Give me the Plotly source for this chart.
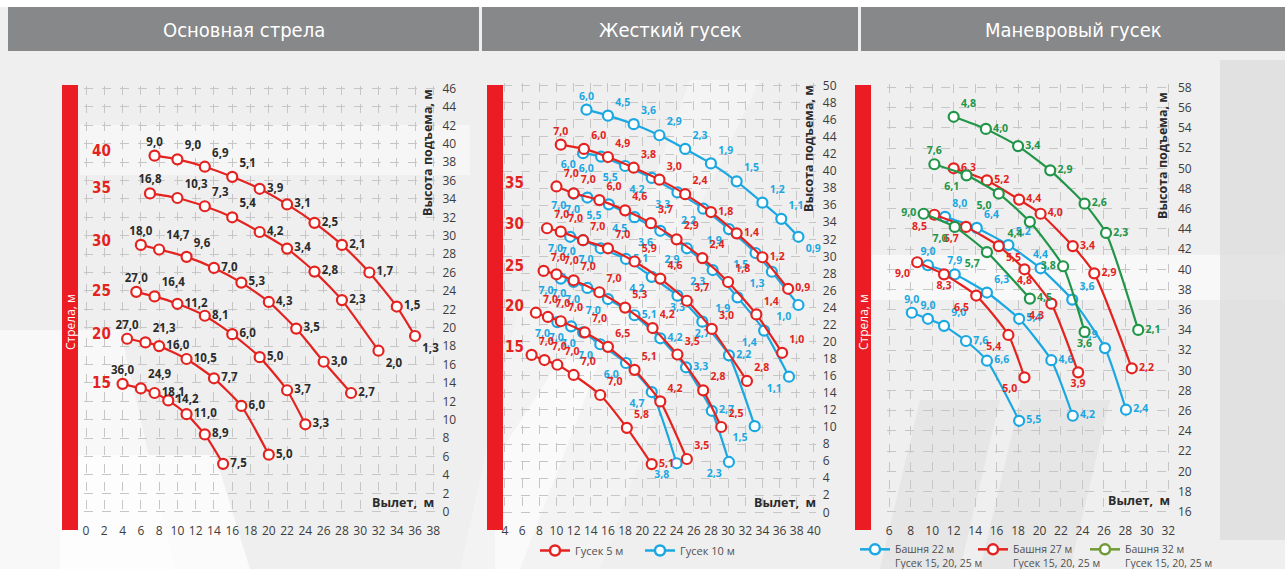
import plotly.graph_objects as go

W, H = 1285, 569

# ---------------- Основная стрела (boom length -> radius, height, load) ----------------
main15_x = [4, 6, 7.5, 9, 11, 13, 15]
main15_h = [13.9, 13.4, 12.9, 12.1, 10.6, 8.4, 5.2]
main15_q = ["36,0", "24,9", "18,1", "14,2", "11,0", "8,9", "7,5"]

main20_x = [4.5, 6.5, 8, 11, 14, 17, 20]
main20_h = [18.8, 18.4, 18.0, 16.6, 14.5, 11.5, 6.2]
main20_q = ["27,0", "21,3", "16,0", "10,5", "7,7", "6,0", "5,0"]

main25_x = [5.5, 7.5, 10, 13, 16, 19, 22, 24]
main25_h = [23.9, 23.4, 22.6, 21.3, 19.3, 16.8, 13.2, 9.5]
main25_q = ["27,0", "16,4", "11,2", "8,1", "6,0", "5,0", "3,7", "3,3"]

main30_x = [6, 8, 11, 14, 17, 20, 23, 26, 29]
main30_h = [29.0, 28.5, 27.7, 26.5, 24.9, 22.8, 19.9, 16.3, 12.9]
main30_q = ["18,0", "14,7", "9,6", "7,0", "5,3", "4,3", "3,5", "3,0", "2,7"]

main35_x = [7, 10, 13, 16, 19, 22, 25, 28, 32]
main35_h = [34.6, 34.1, 33.2, 32.0, 30.4, 28.6, 26.1, 23.0, 17.5]
main35_q = ["16,8", "10,3", "7,3", "5,4", "4,2", "3,4", "2,8", "2,3", "2,0"]

main40_x = [7.5, 10, 13, 16, 19, 22, 25, 28, 31, 34, 36]
main40_h = [38.7, 38.3, 37.5, 36.4, 35.1, 33.4, 31.4, 29.0, 26.0, 22.3, 19.1]
main40_q = ["9,0", "9,0", "6,9", "5,1", "3,9", "3,1", "2,5", "2,1", "1,7", "1,5", "1,3"]

main_booms = ["15", "20", "25", "30", "35", "40"]

# ---------------- Жесткий гусек 5 м ----------------
j5_15_x = [7.1, 8.6, 10.1, 12, 15.1, 18.2, 21.1]
j5_15_h = [18.45, 17.85, 17.3, 16.1, 13.75, 9.9, 5.65]
j5_15_q = ["7,0", "7,0", "7,0", "7,0", "7,0", "5,8", "5,1"]

j5_20_x = [7.6, 9, 10.5, 13.3, 16, 19.1, 22.1, 25.2]
j5_20_h = [23.4, 22.9, 22.4, 21.1, 19.4, 16.7, 13.0, 6.25]
j5_20_q = ["7,0", "7,0", "7,0", "7,0", "6,5", "5,1", "4,2", "3,5"]

j5_25_x = [8.5, 10, 12, 15, 18, 21.2, 24.1, 27.1, 29.2]
j5_25_h = [28.3, 27.9, 27.2, 25.8, 24.0, 21.6, 18.5, 14.3, 10.0]
j5_25_q = ["7,0", "7,0", "7,0", "7,0", "5,3", "4,2", "3,5", "2,8", "2,5"]

j5_30_x = [8.9, 10.5, 13.1, 16, 19.1, 22.1, 25.2, 28.1, 32.2]
j5_30_h = [33.3, 32.9, 31.9, 30.95, 29.4, 27.4, 24.8, 21.5, 15.4]
j5_30_q = ["7,0", "7,0", "7,0", "7,0", "5,9", "4,6", "3,7", "3,0", "2,8"]

j5_35_x = [10, 12, 15, 18, 21, 24, 27, 30, 33.3, 36.3]
j5_35_h = [38.2, 37.4, 36.6, 35.4, 33.9, 32.0, 29.8, 27.0, 23.2, 18.7]
j5_35_q = ["7,0", "7,0", "6,0", "4,6", "3,7", "2,9", "2,4", "1,8", "1,4", "1,0"]

j5_40_x = [10.5, 13.2, 16, 19, 22, 25, 28, 31, 34, 37]
j5_40_h = [43.1, 42.6, 41.65, 40.4, 39.0, 37.3, 35.2, 32.7, 29.9, 26.2]
j5_40_q = ["7,0", "6,0", "4,9", "3,8", "3,0", "2,4", "1,8", "1,4", "1,2", "0,9"]

# ---------------- Жесткий гусек 10 м ----------------
j10_15_x = [10.1, 11.7, 13.1, 15.1, 18.1, 21.1, 24]
j10_15_h = [22.3, 21.8, 21.1, 19.7, 17.5, 14.1, 5.75]
j10_15_q = ["7,0", "7,0", "7,0", "7,0", "6,0", "4,7", "3,8"]

j10_20_x = [10.5, 12, 13.6, 16, 19.1, 22.1, 25.1, 28.1, 30.1]
j10_20_h = [27.4, 27.0, 26.3, 25.0, 23.1, 20.4, 17.0, 11.9, 5.9]
j10_20_q = ["7,0", "7,0", "7,0", "7,0", "5,1", "4,2", "3,3", "2,7", "2,3"]

j10_25_x = [11.6, 13.1, 15.15, 18.1, 21.1, 24.1, 27, 30.1, 33.1]
j10_25_h = [32.3, 31.9, 30.95, 29.7, 27.6, 25.4, 22.35, 18.4, 10.1]
j10_25_q = ["7,0", "7,0", "7,0", "5,1", "4,2", "3,3", "2,7", "2,2", "1,5"]

j10_30_x = [12, 13.6, 16.1, 19.1, 22.1, 25.2, 28.2, 31.1, 34.2, 37.1]
j10_30_h = [37.35, 36.9, 36.1, 34.6, 33.0, 30.95, 28.4, 25.2, 21.3, 15.9]
j10_30_q = ["7,0", "7,0", "5,5", "4,5", "3,6", "2,9", "2,3", "1,9", "1,4", "1,1"]

j10_35_x = [13.1, 15.2, 18, 21.1, 24.1, 27.1, 30.1, 33.2, 35.1, 38.2]
j10_35_h = [42.1, 41.7, 40.6, 39.2, 37.5, 35.6, 33.2, 30.4, 28.2, 24.3]
j10_35_q = ["6,0", "6,0", "5,5", "4,2", "3,3", "2,2", "1,9", "1,5", "1,3", "1,0"]

j10_40_x = [13.5, 16, 19, 22, 25, 28, 31, 34, 36.2, 38.2]
j10_40_h = [47.2, 46.5, 45.5, 44.2, 42.6, 40.9, 38.8, 36.3, 34.4, 32.3]
j10_40_q = ["6,0", "4,5", "3,6", "2,9", "2,3", "1,9", "1,5", "1,2", "1,1", "0,9"]

jib_booms = ["15", "20", "25", "30", "35"]

# ---------------- Маневровый гусек ----------------
t22a_x = [11.2, 14.15, 17.1, 20.1, 23.05, 26.1, 28.06]
t22a_h = [45.2, 44.1, 42.4, 40.1, 37.0, 32.2, 26.1]
t22a_q = ["8,0", "6,4", "5,2", "4,4", "3,6", "2,9", "2,4"]
t22b_x = [9.6, 12.1, 15.1, 18.1, 21.1, 23.1]
t22b_h = [40.4, 39.5, 37.7, 35.1, 31.0, 25.5]
t22b_q = ["9,0", "7,9", "6,3", "5,4", "4,6", "4,2"]
t22c_x = [8.1, 9.6, 11.1, 13.15, 15.1, 18.1]
t22c_h = [35.7, 35.1, 34.4, 32.9, 30.95, 25.0]
t22c_q = ["9,0", "9,0", "9,0", "7,6", "6,6", "5,5"]

t27a_x = [12, 15.1, 18.1, 20.1, 23.1, 25.1, 28.6]
t27a_h = [50.0, 48.8, 46.9, 45.5, 42.3, 39.6, 30.2]
t27a_q = ["6,3", "5,2", "4,4", "4,0", "3,4", "2,9", "2,2"]
t27b_x = [10.2, 13.15, 16.2, 18.6, 21.1, 23.6]
t27b_h = [45.4, 44.2, 42.3, 40.0, 36.6, 29.8]
t27b_q = ["8,5", "6,7", "5,5", "4,8", "4,3", "3,9"]
t27c_x = [8.6, 11.1, 14.1, 17.1, 18.6]
t27c_h = [40.7, 39.5, 37.4, 33.5, 29.3]
t27c_q = ["9,0", "8,3", "6,5", "5,4", "5,0"]

t32a_x = [12, 15, 18, 21, 24.2, 26.2, 29.2]
t32a_h = [55.1, 53.9, 52.2, 49.8, 46.5, 43.6, 34.0]
t32a_q = ["4,8", "4,0", "3,4", "2,9", "2,6", "2,3", "2,1"]
t32b_x = [10.2, 13.2, 16.2, 19.1, 22.2, 24.2]
t32b_h = [50.4, 49.3, 47.5, 44.7, 40.3, 33.8]
t32b_q = ["7,6", "6,1", "5,0", "4,4", "3,8", "3,6"]
t32c_x = [9.2, 12.1, 15.1, 19.1]
t32c_h = [45.5, 44.2, 41.7, 37.1]
t32c_q = ["9,0", "7,0", "5,7", "4,5"]

panel_titles = ["Основная стрела", "Жесткий гусек", "Маневровый гусек"]
legend_jib = ["Гусек 5 м", "Гусек 10 м"]
legend_tower = ["Башня 22 м<br>Гусек 15, 20, 25 м",
                "Башня 27 м<br>Гусек 15, 20, 25 м",
                "Башня 32 м<br>Гусек 15, 20, 25 м"]

# ---------------- styling ----------------
RED = "#e42320"
BLUE = "#1ba8e2"
GREEN = "#219548"
OLIVE = "#6f9a35"
DARK = "#2b2b2b"
GRID = "#c6c6c6"
FONT = "Open Sans, Noto Sans, sans-serif"
NARROW = "Liberation Sans Narrow, DejaVu Sans Condensed, Roboto, sans-serif"

TR, TC, MR, BR, BL, BC, ML, TL = ("top right", "top center", "middle right", "bottom right",
                                  "bottom left", "bottom center", "middle left", "top left")

fig = go.Figure()


def series(xs, ys, qs, color, axis, pos, tcolor, tsize=11):
    fig.add_trace(go.Scatter(
        x=xs, y=ys, text=qs, mode="lines+markers+text",
        xaxis="x" + axis, yaxis="y" + axis,
        line=dict(color=color, width=2.2, shape="spline", smoothing=0.55),
        marker=dict(symbol="circle", size=10, color="white", line=dict(color=color, width=2.2)),
        textposition=pos, textfont=dict(family=FONT, size=tsize, color=tcolor, weight="bold"),
        cliponaxis=False, hoverinfo="skip", showlegend=False,
    ))


def pos_list(n, head, tail=None, fill=MR):
    p = list(head) + [fill] * (n - len(head))
    if tail:
        p[-len(tail):] = tail
    return p[:n]


# panel 1
main_data = [(main15_x, main15_h, main15_q), (main20_x, main20_h, main20_q),
             (main25_x, main25_h, main25_q), (main30_x, main30_h, main30_q),
             (main35_x, main35_h, main35_q), (main40_x, main40_h, main40_q)]
main_pos = [
    pos_list(7, [TC, TR]),
    pos_list(7, [TC, TR]),
    pos_list(8, [TC, TR]),
    pos_list(9, [TC, TR, TR]),
    pos_list(9, [TC, TR, TR, TR], [BR]),
    pos_list(11, [TC, TR, TR, TR], [BR]),
]
for (xs, ys, qs), p in zip(main_data, main_pos):
    series(xs, ys, qs, RED, "", p, DARK, 11.5)

# panel 2 : 10 m jib drawn first, 5 m on top
j10_data = [(j10_15_x, j10_15_h, j10_15_q), (j10_20_x, j10_20_h, j10_20_q),
            (j10_25_x, j10_25_h, j10_25_q), (j10_30_x, j10_30_h, j10_30_q),
            (j10_35_x, j10_35_h, j10_35_q), (j10_40_x, j10_40_h, j10_40_q)]
j10_pos = [
    [BL] * 7,
    [BL, BL, BL, BL, MR, MR, MR, MR, BL],
    [BL, BL, BL, MR, BL, BC, BC, MR, BL],
    [BL] * 10,
    [BL] * 10,
    pos_list(10, [TC, TR, TR, TR, TR, TR, TR, TR, TR], [BR]),
]
for (xs, ys, qs), p in zip(j10_data, j10_pos):
    series(xs, ys, qs, BLUE, "2", p, BLUE, 10.5)

j5_data = [(j5_15_x, j5_15_h, j5_15_q), (j5_20_x, j5_20_h, j5_20_q),
           (j5_25_x, j5_25_h, j5_25_q), (j5_30_x, j5_30_h, j5_30_q),
           (j5_35_x, j5_35_h, j5_35_q), (j5_40_x, j5_40_h, j5_40_q)]
j5_pos = [
    pos_list(7, [TR] * 6, [MR]),
    [TR] * 8,
    [TR] * 9,
    [TR] * 9,
    [TR] * 10,
    [TC, TR, TR, TR, TR, TR, MR, MR, MR, MR],
]
for (xs, ys, qs), p in zip(j5_data, j5_pos):
    series(xs, ys, qs, RED, "2", p, RED, 10.5)

# panel 3
tower_series = [
    (t22a_x, t22a_h, t22a_q, BLUE, [TR, TR, TR, TC, TR, TL, MR]),
    (t22b_x, t22b_h, t22b_q, BLUE, [TC, TC, TR, MR, MR, MR]),
    (t22c_x, t22c_h, t22c_q, BLUE, [TC, TC, TR, MR, MR, MR]),
    (t27a_x, t27a_h, t27a_q, RED, [MR] * 7),
    (t27b_x, t27b_h, t27b_q, RED, [BL, BL, BR, BC, BL, BC]),
    (t27c_x, t27c_h, t27c_q, RED, [BL, BC, BL, BL, BL]),
    (t32a_x, t32a_h, t32a_q, GREEN, [TR] + [MR] * 6),
    (t32b_x, t32b_h, t32b_q, GREEN, [TC, BL, BL, BL, ML, BC]),
    (t32c_x, t32c_h, t32c_q, GREEN, [ML, BL, BL, MR]),
]
for xs, ys, qs, c, p in tower_series:
    series(xs, ys, qs, c, "3", p, c, 10.5)


# legend entries
def legend_entry(name, c, axis, legend_id):
    fig.add_trace(go.Scatter(x=[None], y=[None], mode="lines+markers", name=name,
                             xaxis="x" + axis, yaxis="y" + axis, legend=legend_id,
                             line=dict(color=c, width=2.5),
                             marker=dict(size=10, color="white", line=dict(color=c, width=2.5))))


for name, c in zip(legend_jib, [RED, BLUE]):
    legend_entry(name, c, "2", "legend")
tower_legends = ["legend2", "legend3", "legend4"]
for name, c, lid in zip(legend_tower, [BLUE, RED, OLIVE], tower_legends):
    legend_entry(name, c, "3", lid)


# ---------------- axes ----------------
def px(x):
    return x / W


def py(y):
    return 1 - y / H


def axis_pair(x0px, kx, x0val, xr, y0px, ky, y0val, yr):
    left = x0px + (xr[0] - x0val) * kx
    right = x0px + (xr[1] - x0val) * kx
    bottom = y0px - (yr[0] - y0val) * ky
    top = y0px - (yr[1] - y0val) * ky
    common = dict(showgrid=True, gridcolor=GRID, griddash="dash", gridwidth=1,
                  zeroline=False, showline=False,
                  tickfont=dict(family=FONT, size=12, color="#3c3c3c"), fixedrange=True)
    xa = dict(domain=[px(left), px(right)], range=xr, dtick=2, tick0=0,
              ticks="outside", ticklen=6, tickcolor="rgba(0,0,0,0)", **common)
    ya = dict(domain=[py(bottom), py(top)], range=yr, dtick=2, tick0=0, side="right",
              ticks="outside", ticklen=3, tickcolor="rgba(0,0,0,0)", **common)
    return xa, ya


xa1, ya1 = axis_pair(86, 9.14, 0, [-0.25, 38.3], 511.7, 9.2, 0, [-0.2, 46.3])
xa2, ya2 = axis_pair(505, 8.58, 4, [3.75, 40.3], 512.3, 8.53, 0, [-0.2, 50.3])
xa3, ya3 = axis_pair(889.3, 10.73, 6, [5.8, 32.3], 511.7, 10.1, 16, [15.8, 58.3])
xa1["anchor"], ya1["anchor"] = "y", "x"
xa2["anchor"], ya2["anchor"] = "y2", "x2"
xa3["anchor"], ya3["anchor"] = "y3", "x3"

# ---------------- decorations ----------------
shapes = []
annotations = []


def poly(points):
    return "M " + " L ".join(f"{px(a):.5f},{py(b):.5f}" for a, b in points) + " Z"


# watermark-like background bands (pixel outlines)
bg_polys = [
    ([(0, 569), (0, 330), (120, 330), (175, 569)], "rgba(255,255,255,0.55)"),
    ([(60, 569), (60, 455), (215, 455), (250, 569)], "rgba(255,255,255,0.75)"),
    ([(80, 175), (470, 175), (470, 125), (80, 125)], "rgba(255,255,255,0.45)"),
    ([(495, 569), (495, 460), (560, 360), (600, 360), (520, 569)], "rgba(255,255,255,0.55)"),
    ([(520, 300), (700, 300), (600, 569), (460, 569)], "rgba(255,255,255,0.25)"),
    ([(690, 80), (760, 80), (640, 330), (600, 330)], "rgba(255,255,255,0.35)"),
    ([(855, 300), (1285, 300), (1285, 255), (855, 255)], "rgba(255,255,255,0.55)"),
    ([(880, 569), (920, 400), (1000, 400), (960, 569)], "rgba(220,220,220,0.45)"),
    ([(980, 569), (1020, 400), (1110, 400), (1070, 569)], "rgba(220,220,220,0.45)"),
    ([(1220, 60), (1285, 60), (1285, 540), (1220, 540)], "rgba(215,215,215,0.6)"),
]
for pts, col in bg_polys:
    shapes.append(dict(type="path", path=poly(pts), xref="paper", yref="paper",
                       fillcolor=col, line=dict(width=0), layer="below"))

# white strip above headers
shapes.append(dict(type="rect", xref="paper", yref="paper", x0=0, x1=1, y0=py(7), y1=1,
                   fillcolor="white", line=dict(width=0), layer="below"))


def label(text, x, y, size, color, family=FONT, angle=0):
    annotations.append(dict(text=text, x=px(x), y=py(y), xref="paper", yref="paper",
                            showarrow=False, textangle=angle, xanchor="center", yanchor="middle",
                            font=dict(family=family, size=size, color=color)))


# header bars
header_spans = [(8, 479), (482, 858), (861, 1285)]
for (a, b), title in zip(header_spans, panel_titles):
    shapes.append(dict(type="rect", xref="paper", yref="paper", x0=px(a), x1=px(b),
                       y0=py(51), y1=py(7), fillcolor="#87888a", line=dict(width=0), layer="below"))
    label(title, (a + b) / 2, 30, 20, "white", NARROW)

# red boom strips
for x0 in (62, 487, 855):
    shapes.append(dict(type="rect", xref="paper", yref="paper", x0=px(x0), x1=px(x0 + 16),
                       y0=py(530), y1=py(85), fillcolor="#ec1c24", line=dict(width=0), layer="below"))
for xc in (70, 863):
    label("Стрела, м", xc, 322, 12, "white", angle=-90)

# boom length labels
main_label_y = [383, 334, 291, 241, 187.7, 151]
for b, yy in zip(main_booms, main_label_y):
    label(f"<b>{b}</b>", 101, yy, 15, RED, NARROW)
jib_label_y = [346.7, 305.7, 266, 224.3, 182.7]
for b, yy in zip(jib_booms, jib_label_y):
    label(f"<b>{b}</b>", 514, yy, 15, RED, NARROW)

# axis titles
for xc, yc in ((428, 153), (808, 149), (1162, 156)):
    label("<b>Высота подъема, м</b>", xc, yc, 12.5, DARK, angle=-90)
for xc, yc in ((403, 503), (785, 502), (1139, 500)):
    label("<b>Вылет,  м</b>", xc, yc, 12.5, DARK)

legend_common = dict(orientation="h", xanchor="left", yanchor="top", bgcolor="rgba(0,0,0,0)",
                     itemwidth=30)
layout_legends = dict(
    legend=dict(x=px(535), y=py(536), font=dict(family=FONT, size=11, color="#505050"),
                entrywidth=60, entrywidthmode="pixels", **legend_common),
)
for lid, x0 in zip(tower_legends, (855, 973, 1085)):
    layout_legends[lid] = dict(x=px(x0), y=py(536), valign="top",
                               font=dict(family=FONT, size=10.5, color="#505050"),
                               **legend_common)

fig.update_layout(
    width=W, height=H, autosize=False,
    margin=dict(l=0, r=0, t=0, b=0, pad=0, autoexpand=False),
    paper_bgcolor="#efefef", plot_bgcolor="rgba(0,0,0,0)",
    xaxis=xa1, yaxis=ya1, xaxis2=xa2, yaxis2=ya2, xaxis3=xa3, yaxis3=ya3,
    shapes=shapes, annotations=annotations,
    hovermode=False,
    **layout_legends,
)

fig.write_html("out.html")
